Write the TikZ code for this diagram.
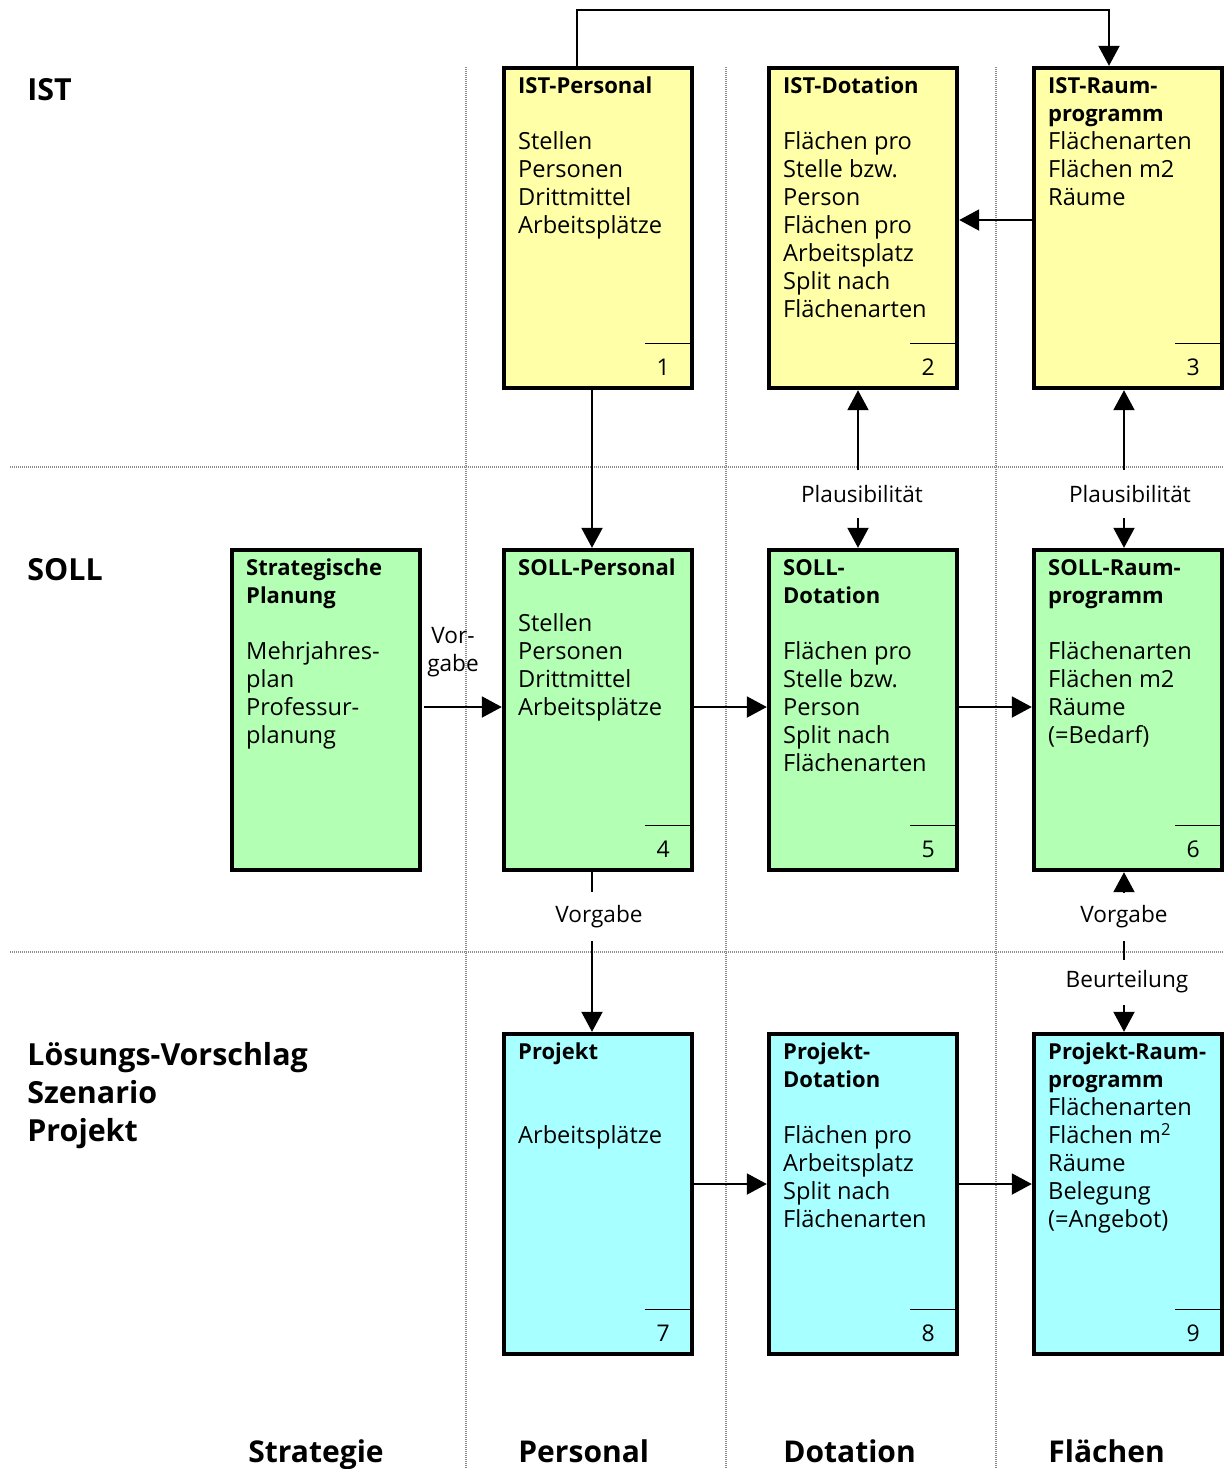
\documentclass[tikz,border=0pt]{standalone}
\usepackage{fontspec}
\setmainfont{Open Sans}
\usetikzlibrary{arrows.meta}
\definecolor{ylw}{RGB}{255,255,168}
\definecolor{grn}{RGB}{179,255,179}
\definecolor{cyn}{RGB}{168,255,255}
\newcommand{\ttl}[1]{{\fontsize{11}{14}\selectfont\bfseries #1}}
\tikzset{
  box/.style={draw=black,line width=2.2pt,minimum width=94pt,minimum height=160pt,inner sep=0pt},
  txt/.style={anchor=north west,align=left,inner sep=0pt,font=\fontsize{11.8}{14}\selectfont},
  lbl/.style={inner sep=0pt,font=\fontsize{11.3}{14}\selectfont},
  numtxt/.style={inner sep=0pt,font=\fontsize{11.5}{14}\selectfont},
  hdr/.style={anchor=west,align=left,inner sep=0pt,font=\fontsize{15.2}{19}\selectfont\bfseries},
  foot/.style={anchor=base west,inner sep=0pt,font=\fontsize{15}{18}\selectfont\bfseries},
  conn/.style={line width=1pt,-{Triangle[length=10pt,width=10.5pt]}},
  plain/.style={line width=1pt},
  grid/.style={draw=black!45,line width=0.7pt,dash pattern=on 0.6pt off 0.4pt},
}
\newcommand{\numline}[2]{%
  \draw[line width=0.6pt] ([shift={(-24.5pt,23.5pt)}]#1.south east) -- ([shift={(-1.1pt,23.5pt)}]#1.south east);
  \node[numtxt] (#1n) at ([shift={(-15.5pt,11.5pt)}]#1.south east) {#2};}
\begin{document}
\begin{tikzpicture}[x=0.5pt,y=-0.5pt]
\useasboundingbox (0,0) rectangle (1226,1469);
% grid
\draw[grid] (10,467) -- (1222,467);
\draw[grid] (10,952) -- (1222,952);
\draw[grid] (466,67) -- (466,1469);
\draw[grid] (726,67) -- (726,1469);
\draw[grid] (996,67) -- (996,1469);
% boxes
\node[box,fill=ylw] (b1) at (598,228) {};
\node[box,fill=ylw] (b2) at (863,228) {};
\node[box,fill=ylw] (b3) at (1128,228) {};
\node[box,fill=grn] (bs) at (326,710) {};
\node[box,fill=grn] (b4) at (598,710) {};
\node[box,fill=grn] (b5) at (863,710) {};
\node[box,fill=grn] (b6) at (1128,710) {};
\node[box,fill=cyn] (b7) at (598,1194) {};
\node[box,fill=cyn] (b8) at (863,1194) {};
\node[box,fill=cyn] (b9) at (1128,1194) {};
% texts
\node[txt] (t1) at ([shift={(8pt,-5.5pt)}]b1.north west) {\ttl{IST-Personal}\\[14pt]Stellen\\Personen\\Drittmittel\\Arbeitsplätze};
\node[txt] (t2) at ([shift={(8pt,-5.5pt)}]b2.north west) {\ttl{IST-Dotation}\\[14pt]Flächen pro\\Stelle bzw.\\Person\\Flächen pro\\Arbeitsplatz\\Split nach\\Flächenarten};
\node[txt] (t3) at ([shift={(8pt,-5.5pt)}]b3.north west) {\ttl{IST-Raum-}\\\ttl{programm}\\Flächenarten\\Flächen m2\\Räume};
\node[txt] (ts) at ([shift={(8pt,-5.5pt)}]bs.north west) {\ttl{Strategische}\\\ttl{Planung}\\[14pt]Mehrjahres-\\plan\\Professur-\\planung};
\node[txt] (t4) at ([shift={(8pt,-5.5pt)}]b4.north west) {\ttl{SOLL-Personal}\\[14pt]Stellen\\Personen\\Drittmittel\\Arbeitsplätze};
\node[txt] (t5) at ([shift={(8pt,-5.5pt)}]b5.north west) {\ttl{SOLL-}\\\ttl{Dotation}\\[14pt]Flächen pro\\Stelle bzw.\\Person\\Split nach\\Flächenarten};
\node[txt] (t6) at ([shift={(8pt,-5.5pt)}]b6.north west) {\ttl{SOLL-Raum-}\\\ttl{programm}\\[14pt]Flächenarten\\Flächen m2\\Räume\\(=Bedarf)};
\node[txt] (t7) at ([shift={(8pt,-5.5pt)}]b7.north west) {\ttl{Projekt}\\[28pt]Arbeitsplätze};
\node[txt] (t8) at ([shift={(8pt,-5.5pt)}]b8.north west) {\ttl{Projekt-}\\\ttl{Dotation}\\[14pt]Flächen pro\\Arbeitsplatz\\Split nach\\Flächenarten};
\node[txt] (t9) at ([shift={(8pt,-5.5pt)}]b9.north west) {\ttl{Projekt-Raum-}\\\ttl{programm}\\Flächenarten\\Flächen m\textsuperscript{2}\\Räume\\Belegung\\(=Angebot)};
% numbers
\numline{b1}{1}\numline{b2}{2}\numline{b3}{3}
\numline{b4}{4}\numline{b5}{5}\numline{b6}{6}
\numline{b7}{7}\numline{b8}{8}\numline{b9}{9}
% headers
\node[hdr] (hist) at (27,90) {IST};
\node[hdr] (hsoll) at (27,570) {SOLL};
\node[hdr,anchor=north west] (hlv) at (27,1042) {Lösungs-Vorschlag\\Szenario\\Projekt};
\node[foot] (fs) at (248,1462) {Strategie};
\node[foot] (fp) at (518,1462) {Personal};
\node[foot] (fd) at (783,1462) {Dotation};
\node[foot] (ff) at (1048,1462) {Flächen};
% labels
\node[lbl] (lp1) at (862,494) {Plausibilität};
\node[lbl] (lp2) at (1130,494) {Plausibilität};
\node[lbl,align=center] (lvg) at (453,652) {Vor-\\gabe};
\node[lbl] (lv1) at (599,917) {Vorgabe};
\node[lbl] (lv2) at (1124,917) {Vorgabe};
\node[lbl] (lbt) at (1127,982) {Beurteilung};
% connectors
\draw[conn] ([xshift=-10.5pt]b1.north) -- ++(0,-56) -| ([xshift=-9.5pt]b3.north);
\draw[conn] ([yshift=4pt]b3.west) -- ([yshift=4pt]b2.east);
\draw[conn] ([xshift=-3pt]b1.south) -- ([xshift=-3pt]b4.north);
\coordinate (p1a) at (858,470);
\coordinate (p1b) at (858,518);
\draw[conn] (p1a) -- (p1a |- b2.south);
\draw[conn] (p1b) -- (p1b |- b5.north);
\coordinate (p2a) at (1124,470);
\coordinate (p2b) at (1124,518);
\draw[conn] (p2a) -- (p2a |- b3.south);
\draw[conn] (p2b) -- (p2b |- b6.north);
\coordinate (vs) at (424,707);
\draw[conn] (vs) -- (vs -| b4.west);
\draw[conn] (b4.east |- 0,707) -- (b5.west |- 0,707);
\draw[conn] (b5.east |- 0,707) -- (b6.west |- 0,707);
\coordinate (v1a) at (592,892);
\coordinate (v1b) at (592,941);
\draw[plain] (v1a |- b4.south) -- (v1a);
\draw[conn] (v1b) -- (v1b |- b7.north);
\coordinate (v2a) at (1124,893);
\coordinate (v2b) at (1124,941);
\coordinate (v2c) at (1124,960);
\coordinate (v2d) at (1124,1005);
\draw[conn] (v2a) -- (v2a |- b6.south);
\draw[plain] (v2b) -- (v2c);
\draw[conn] (v2d) -- (v2d |- b9.north);
\draw[conn] (b7.east |- 0,1184) -- (b8.west |- 0,1184);
\draw[conn] (b8.east |- 0,1184) -- (b9.west |- 0,1184);
\end{tikzpicture}
\end{document}
